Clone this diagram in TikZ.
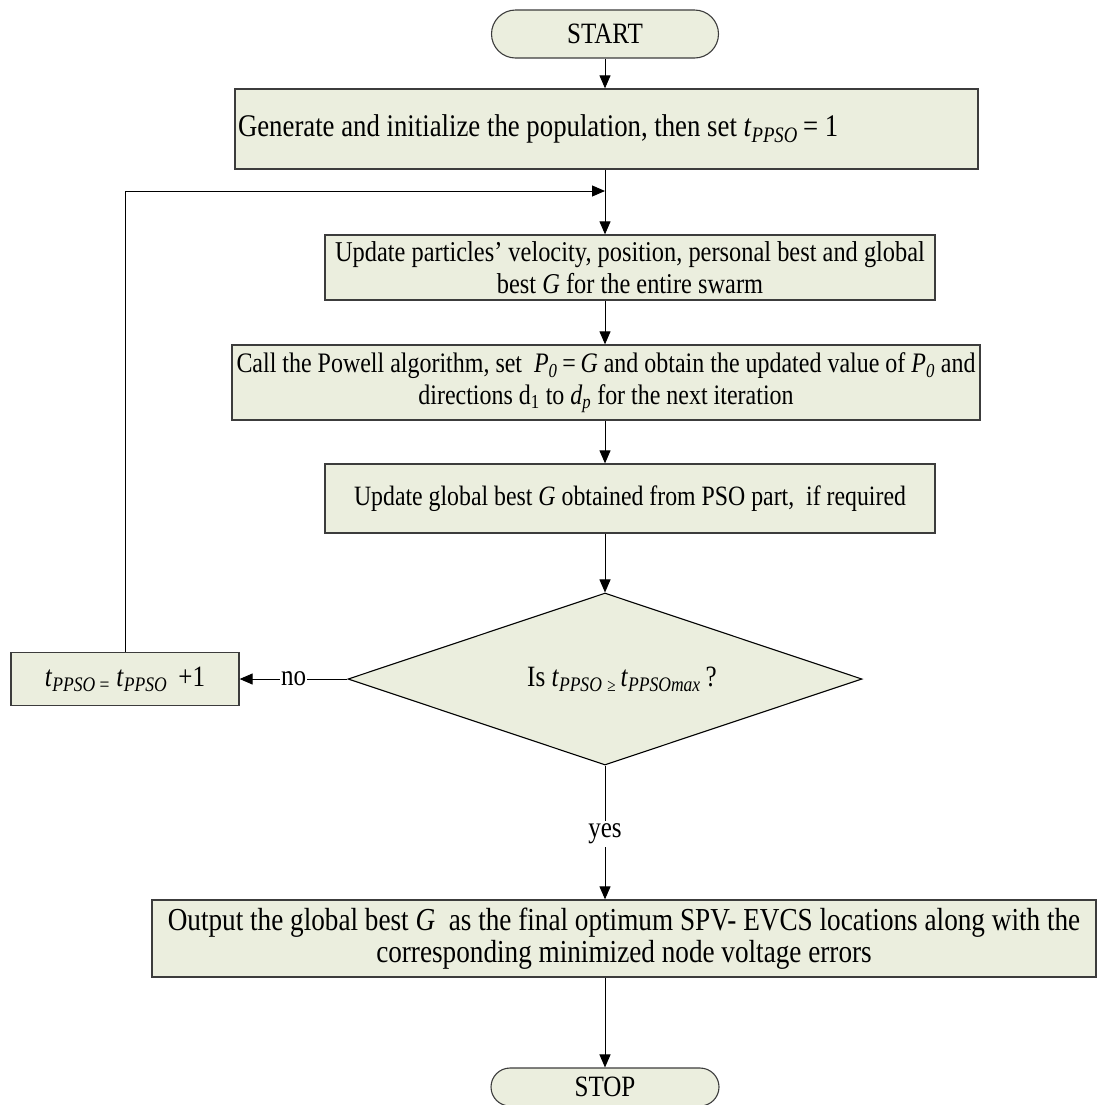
\documentclass[tikz,border=0pt]{standalone}
\usepackage{fontspec}
\setmainfont{Liberation Serif}[FakeStretch=0.85]
\usetikzlibrary{arrows.meta,shapes.geometric,shapes.misc}
\definecolor{boxfill}{RGB}{235,238,222}
\definecolor{boxline}{RGB}{60,60,60}
\newcommand{\tsub}[1]{\textit{t}\textsubscript{\textit{#1}}}
\newcommand{\fs}[1]{\fontsize{#1}{32}\selectfont}
\begin{document}
\begin{tikzpicture}[x=1pt,y=-1pt,
  font=\fs{29.5},
  procbox/.style={draw=boxline,line width=1.3pt,fill=boxfill,rectangle,inner sep=3pt},
  termbox/.style={draw=boxline,line width=1.1pt,fill=boxfill,rounded rectangle,inner sep=0pt},
  decbox/.style={draw=black,line width=1.1pt,fill=boxfill,diamond,inner sep=0pt},
  arr/.style={line width=1pt,-{Triangle[length=13pt,width=11pt]}},
  conn/.style={line width=1pt}]
\useasboundingbox (0,0) rectangle (1107,1104);

% terminals and process steps
\node[termbox,minimum width=227,minimum height=48] (start) at (605,34) {START};
\node[procbox,font=\fs{31.5},minimum width=743,minimum height=80,text width=737,align=flush left] (b1) at (606.5,129)
  {Generate and initialize the population, then set \tsub{PPSO}\,= 1};
\node[procbox,font=\fs{28.7},minimum width=610,minimum height=65,align=center] (b2) at (630,267.5)
  {Update particles’ velocity, position, personal best and global\\
   best \textit{G} for the entire swarm};
\node[procbox,font=\fs{28.2},minimum width=748,minimum height=75,align=center] (b3) at (606,382.5)
  {Call the Powell algorithm, set \ \textit{P\textsubscript{0}}\,=\,\textit{G} and obtain the updated value of \textit{P\textsubscript{0}} and\\
   directions d\textsubscript{\upshape 1} to \textit{d\textsubscript{p}} for the next iteration};
\node[procbox,font=\fs{28},minimum width=610,minimum height=69,align=center] (b4) at (630,498.5)
  {Update global best \textit{G} obtained from PSO part, \ if required};
\node[decbox,minimum width=514,minimum height=172] (dec) at (605,679) {};
\node (dectext) at (622,679) {Is \tsub{PPSO}\,\raisebox{-0.4ex}{\fontsize{18}{18}\selectfont ≥}\,\tsub{PPSOmax}\,?};
\node[procbox,minimum width=228,minimum height=53,align=center] (b5) at (125,679)
  {\textit{t}\textsubscript{\textit{PPSO} =} \tsub{PPSO} \,+1};
\node[procbox,font=\fs{32},minimum width=944,minimum height=77,align=center] (b6) at (624,938.5)
  {Output the global best \textit{G} \ as the final optimum SPV- EVCS locations along with the\\
   corresponding minimized node voltage errors};
\node[termbox,minimum width=228,minimum height=38] (stop) at (605,1087) {STOP};

% connectors
\coordinate (loop) at (605,191);
\draw[arr] (start.south) -- (start.south |- b1.north);
\draw[conn] (b1.south -| loop) -- (loop);
\draw[arr] (loop) -- (loop |- b2.north);
\draw[arr] (b5.north) |- (loop);
\draw[arr] (loop |- b2.south) -- (loop |- b3.north);
\draw[arr] (loop |- b3.south) -- (loop |- b4.north);
\draw[arr] (loop |- b4.south) -- (dec.north);
\draw[arr] (dec.west) -- node[fill=white,inner sep=1pt] (no) {no} (b5.east);
\coordinate (yes) at (605,834);
\draw[arr] (dec.south) -- (yes) node[fill=white,inner sep=3pt] (yeslbl) {yes} -- (yes |- b6.north);
\draw[arr] (dec.south |- b6.south) -- (stop.north);
\end{tikzpicture}
\end{document}
